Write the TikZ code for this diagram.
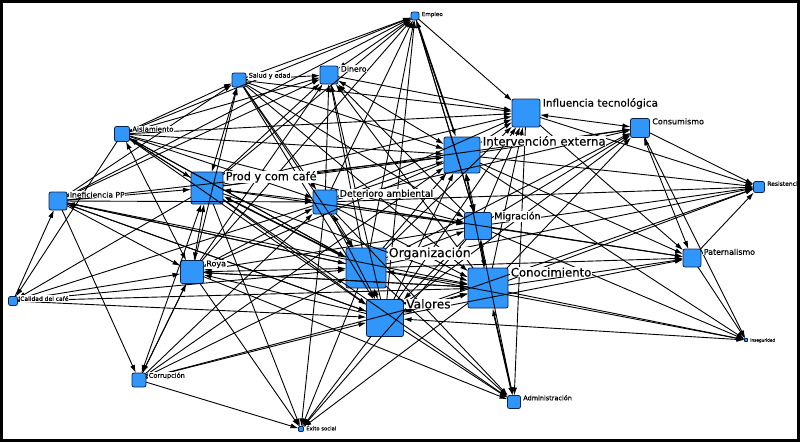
\documentclass[tikz,border=0pt]{standalone}
\usepackage{fontspec}
\setmainfont{DejaVu Sans}
\newfontfamily\lblfont[FakeBold=0.4]{DejaVu Sans}
\usetikzlibrary{arrows.meta,calc}
\definecolor{nodeblue}{RGB}{48,150,250}
\definecolor{nodeedge}{RGB}{10,35,85}
\newcommand\mylab[3]{\node[lbl,font=\lblfont\fontsize{#2}{#2}\selectfont] (#1l) at ($(#1.north east)+(2,{0.73*#2})$) {#3};}
\begin{document}
\begin{tikzpicture}[x=1pt,y=-1pt,
  nd/.style={rectangle, draw=nodeedge, line width=0.8pt, fill=nodeblue, rounded corners=2pt, inner sep=0pt, outer sep=0pt},
  ed/.style={-{Latex[length=8pt,width=5pt]}, line width=0.9pt},
  bi/.style={{Latex[length=8pt,width=5pt]}-{Latex[length=8pt,width=5pt]}, line width=0.9pt},
  thk/.style={line width=1.6pt},
  lbl/.style={inner sep=0.6pt, anchor=base west, text=black, fill=white}]
\useasboundingbox (0,0) rectangle (800,442);
\begin{scope}
\clip (3,3) rectangle (797,439);
% nodes
\node[nd, minimum size=8pt]  (EMP) at (415,16) {};
\node[nd, minimum size=14pt] (SAL) at (239,80) {};
\node[nd, minimum size=18pt] (DIN) at (329,75) {};
\node[nd, minimum size=15pt] (AIS) at (122,134) {};
\node[nd, minimum size=28pt] (INF) at (526,113) {};
\node[nd, minimum size=19pt] (CON) at (640,128) {};
\node[nd, minimum size=36pt] (INT) at (462,155) {};
\node[nd, minimum size=32pt] (PRO) at (207,188) {};
\node[nd, minimum size=18pt] (INE) at (58,201) {};
\node[nd, minimum size=24pt] (DET) at (325,202) {};
\node[nd, minimum size=11pt] (RES) at (759,187) {};
\node[nd, minimum size=27pt] (MIG) at (478,226) {};
\node[nd, minimum size=40pt] (ORG) at (366,268) {};
\node[nd, minimum size=18pt] (PAT) at (692,258) {};
\node[nd, minimum size=40pt] (CNO) at (488,288) {};
\node[nd, minimum size=23pt] (ROY) at (192,272) {};
\node[nd, minimum size=9pt]  (CAL) at (13,301) {};
\node[nd, minimum size=37pt] (VAL) at (385,318) {};
\node[nd, minimum size=3pt, rounded corners=0.5pt]  (INS) at (746,340) {};
\node[nd, minimum size=14pt] (COR) at (139,380) {};
\node[nd, minimum size=13pt] (ADM) at (514,402) {};
\node[nd, minimum size=5pt, rounded corners=1pt]  (EXI) at (301,429) {};
% edges
\foreach \a/\b in {EMP/DIN, INE/EMP, AIS/EMP, SAL/EMP, PRO/EMP, ROY/EMP, DET/EMP, ORG/EMP, VAL/EMP, EMP/INF, MIG/EMP, EMP/MIG,
  SAL/DIN, AIS/SAL, INE/SAL, SAL/DET, SAL/INT, SAL/MIG, SAL/ORG, SAL/VAL, SAL/CNO, ROY/SAL, SAL/INF,
  PRO/DIN, DET/DIN, ORG/DIN, VAL/DIN, MIG/DIN, ROY/DIN, CNO/DIN, DIN/INF, AIS/DIN, INE/DIN,
  AIS/INF, AIS/PRO, AIS/DET, AIS/ORG, AIS/VAL, AIS/MIG, AIS/CAL, PRO/AIS, ORG/AIS, AIS/INT,
  INE/PRO, INE/DET, INE/ORG, INE/VAL, INE/ROY, CAL/INE, INE/COR, INE/INT, VAL/INE, ORG/INE, INE/CNO,
  VAL/ROY, CNO/ROY, ROY/COR, ROY/EXI, ROY/ADM, INT/ROY, MIG/ROY, CAL/ROY,
  COR/ROY, COR/ORG, COR/VAL, COR/CNO, COR/EXI, COR/DET, COR/INT,
  PRO/EXI, DET/EXI, ORG/EXI, VAL/EXI, CNO/EXI, MIG/EXI,
  VAL/ADM, ORG/ADM, DET/ADM, PRO/ADM, INF/ADM, MIG/ADM,
  CNO/INS, MIG/INS, INT/INS, PAT/INS, CON/INS, ORG/INS,
  INT/PAT, MIG/PAT, CNO/PAT, ORG/PAT, DET/PAT, PAT/RES, INF/PAT, VAL/PAT,
  CON/RES, INF/RES, INT/RES, MIG/RES, ORG/RES, CNO/RES, DET/RES, VAL/RES,
  INT/CON, MIG/CON, ORG/CON, CNO/CON, VAL/CON, DET/CON, PRO/CON,
  PRO/INF, DET/INF, ORG/INF, MIG/INF, VAL/INF, CNO/INF,
  PRO/INT, ORG/INT, VAL/INT, CNO/INT,
  PRO/MIG, PRO/VAL, PRO/CNO, PRO/CAL, DET/CAL, DET/MIG, DET/VAL, DET/CNO, MIG/VAL, ROY/CNO,
  CAL/ORG, CAL/VAL, CAL/CNO}
  \draw[ed] (\a) -- (\b);
\foreach \a/\b in {PRO/SAL, DIN/INT, INT/INF, INF/CON, CON/PAT, PRO/DET, PRO/ROY, DET/INT,
  DET/ORG, DET/ROY, MIG/INT, MIG/ORG, ORG/VAL, ORG/CNO, VAL/CNO, ORG/ROY, COR/PRO, VAL/INS, AIS/ROY}
  \draw[bi] (\a) -- (\b);
\foreach \a/\b in {EMP/INT, CNO/ADM, MIG/CNO, PRO/ORG}
  \draw[bi,thk] (\a) -- (\b);
% labels
\mylab{EMP}{5.6}{Empleo}
\mylab{SAL}{6.4}{Salud y edad}
\mylab{DIN}{7.8}{Dinero}
\mylab{AIS}{7}{Aislamiento}
\mylab{INF}{10.5}{Influencia tecnológica}
\mylab{CON}{8}{Consumismo}
\mylab{INT}{11.8}{Intervención externa}
\mylab{PRO}{11.3}{Prod y com café}
\mylab{INE}{7.6}{Ineficiencia PP}
\mylab{DET}{9.3}{Deterioro ambiental}
\mylab{RES}{6}{Resistencia}
\mylab{MIG}{9.5}{Migración}
\mylab{ORG}{12.5}{Organización}
\mylab{PAT}{7.9}{Paternalismo}
\mylab{CNO}{11.7}{Conocimiento}
\mylab{ROY}{8}{Roya}
\mylab{CAL}{6}{Calidad del café}
\mylab{VAL}{12.2}{Valores}
\mylab{INS}{4.2}{Inseguridad}
\mylab{COR}{6.6}{Corrupción}
\mylab{ADM}{6.5}{Administración}
\mylab{EXI}{5.3}{Éxito social}
\end{scope}
\draw[line width=3pt] (1.5,1.5) rectangle (798.5,440.5);
\end{tikzpicture}
\end{document}
